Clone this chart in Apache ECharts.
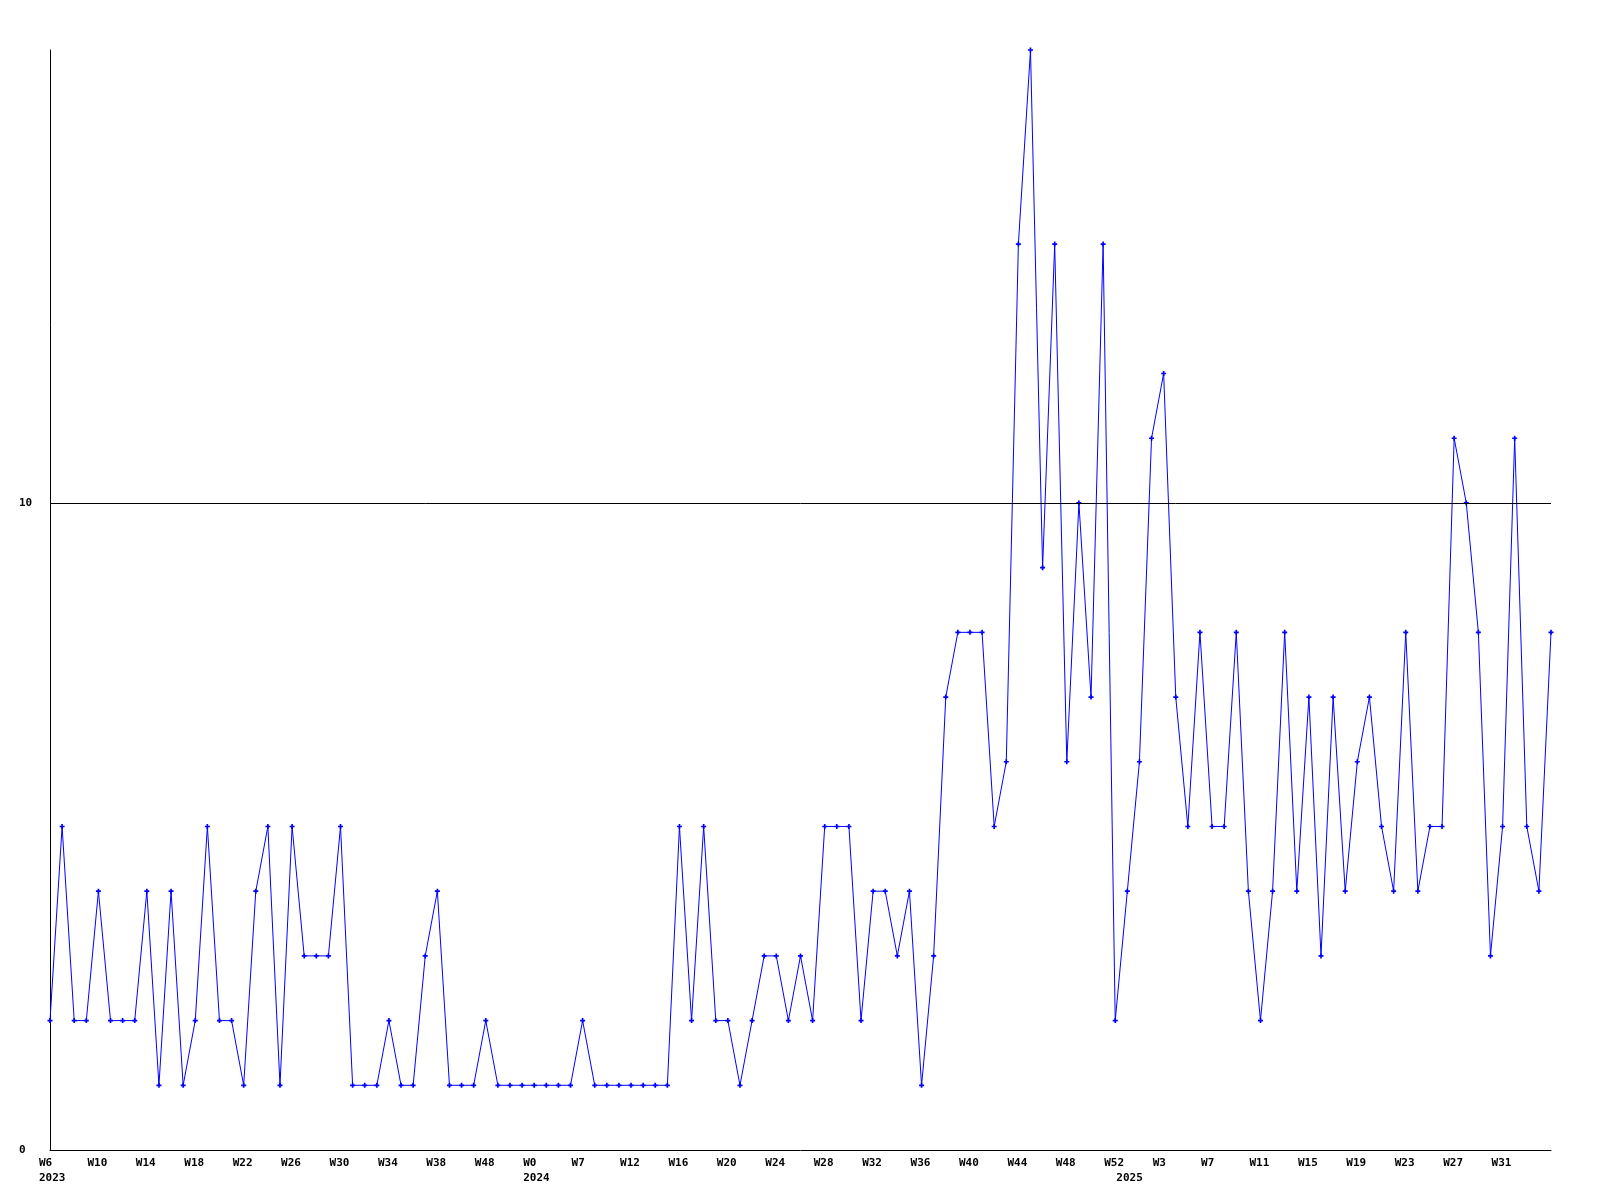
<!DOCTYPE html>
<html>
<head>
<meta charset="utf-8">
<script src="https://cdn.jsdelivr.net/npm/echarts@6/dist/echarts.min.js"></script>
<style>
html,body{margin:0;padding:0;background:#fff;}
#chart{width:1600px;height:1200px;}
</style>
</head>
<body>
<div id="chart"></div>
<script>
// Week labels (every 4th is shown on the axis, the last one is not)
var weeks = [
  'W6','W7','W8','W9','W10','W11','W12','W13','W14','W15','W16','W17','W18','W19','W20','W21',
  'W22','W23','W24','W25','W26','W27','W28','W29','W30','W31','W32','W33','W34','W35','W36','W37',
  'W38','W45','W46','W47','W48','W49','W50','W51',
  'W0','W3','W5','W6','W7','W9','W10','W11','W12','W13','W14','W15',
  'W16','W17','W18','W19','W20','W21','W22','W23','W24','W25','W26','W27','W28','W29','W30','W31',
  'W32','W33','W34','W35','W36','W37','W38','W39','W40','W41','W42','W43','W44','W45','W46','W47',
  'W48','W49','W50','W51','W52',
  'W0','W1','W2','W3','W4','W5','W6','W7','W8','W9','W10','W11','W12','W13','W14','W15',
  'W16','W17','W18','W19','W20','W21','W22','W23','W24','W25','W26','W27','W28','W29','W30','W31',
  'W32','W33','W34','W35'
];
// Year label positions (index into weeks)
var yearStarts = {0: '2023', 40: '2024', 89: '2025'};
var labelEvery = 4;
var lastLabelIndex = 120;

var values = [
  2,5,2,2,4,2,2,2,4,1,4,1,2,5,2,2,
  1,4,5,1,5,3,3,3,5,1,1,1,2,1,1,3,
  4,1,1,1,2,1,1,1,1,1,1,1,2,1,1,1,
  1,1,1,1,5,2,5,2,2,1,2,3,3,2,3,2,
  5,5,5,2,4,4,3,4,1,3,7,8,8,8,5,6,
  14,17,9,14,6,10,7,14,2,4,6,11,12,7,5,8,
  5,5,8,4,2,4,8,4,7,3,7,4,6,7,5,4,
  8,4,5,5,11,10,8,3,5,11,5,4,8
];

var yTicks = [0, 10];
var yMax = 17;

var chart = echarts.init(document.getElementById('chart'), null, {renderer: 'canvas'});
var font = 'DejaVu Sans Mono';
chart.setOption({
  animation: false,
  backgroundColor: '#ffffff',
  grid: {left: 50, right: 49, top: 50, bottom: 50, containLabel: false},
  xAxis: {
    type: 'category',
    data: weeks,
    boundaryGap: false,
    axisLine: {show: true, lineStyle: {color: '#000', width: 1}},
    axisTick: {show: false},
    splitLine: {show: false},
    axisLabel: {
      interval: 0,
      align: 'left',
      padding: [0, 0, 0, -11],
      margin: 6,
      fontFamily: font,
      fontWeight: 'bold',
      fontSize: 11,
      lineHeight: 15,
      color: '#000',
      formatter: function (value, idx) {
        var top = (idx % labelEvery === 0 && idx <= lastLabelIndex) ? value : '';
        var yr = yearStarts[idx];
        if (yr) return top + '\n' + yr;
        return top;
      }
    }
  },
  yAxis: {
    type: 'value',
    min: 0,
    max: yMax,
    interval: 10,
    axisLine: {show: true, lineStyle: {color: '#000', width: 1}},
    axisTick: {show: false},
    splitLine: {show: false},
    axisLabel: {
      align: 'left',
      margin: 31,
      fontFamily: font,
      fontWeight: 'bold',
      fontSize: 11,
      color: '#000',
      formatter: function (v) { return yTicks.indexOf(v) >= 0 ? String(v) : ''; }
    }
  },
  series: [{
    type: 'line',
    data: values,
    showAllSymbol: true,
    symbol: 'path://M1,0H2V1H3V2H2V3H1V2H0V1H1Z',
    symbolSize: 5,
    itemStyle: {color: '#0000ff'},
    lineStyle: {color: '#0000ff', width: 1},
    emphasis: {disabled: true},
    markLine: {
      silent: true,
      symbol: ['none', 'none'],
      label: {show: false},
      lineStyle: {color: '#000', width: 1, type: 'solid'},
      data: [{yAxis: 10}]
    }
  }]
});
</script>
</body>
</html>
